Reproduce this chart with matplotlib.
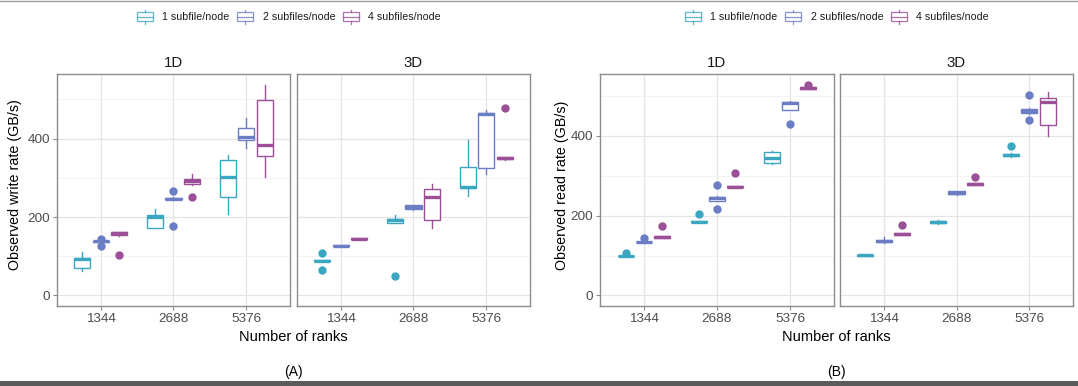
import matplotlib
matplotlib.use("Agg")
import matplotlib.pyplot as plt
from matplotlib.patches import Rectangle
from matplotlib.lines import Line2D
from matplotlib.ticker import MultipleLocator

# ---------------- data ----------------
ranks = ["1344", "2688", "5376"]
groups = ["1 subfile/node", "2 subfiles/node", "4 subfiles/node"]
facets = ["1D", "3D"]
colors = ["#3BA6C0", "#6A7DC5", "#9A4F97"]

# per group, per rank: [whisker_low, q1, median, q3, whisker_high]
write_1d_stats = [
    [[63, 71, 92, 96, 111], [173, 173, 200, 205, 221], [207, 251, 303, 345, 359]],
    [[136, 137, 139, 140, 141], [244, 245, 247, 249, 250], [377, 396, 404, 426, 452]],
    [[152, 153, 160, 162, 163], [283, 284, 291, 297, 311], [302, 355, 383, 498, 538]],
]
write_1d_out = [
    [[], [], []],
    [[126, 143], [177, 266], []],
    [[104], [251], []],
]
write_3d_stats = [
    [[86, 87, 88, 90, 91], [185, 186, 193, 195, 206], [254, 274, 276, 328, 397]],
    [[124, 125, 126, 128, 129], [219, 220, 225, 230, 231], [311, 324, 464, 466, 472]],
    [[143, 143.5, 144, 146, 146.5], [171, 192, 250, 272, 285], [346, 347, 350, 352, 353]],
]
write_3d_out = [
    [[64, 108], [50], []],
    [[], [], []],
    [[], [], [479]],
]
read_1d_stats = [
    [[97, 98, 99, 100, 101], [182, 183, 185, 186, 187], [330, 331, 345, 361, 362]],
    [[132, 133, 134, 135, 136], [236, 237, 245, 248, 249], [465, 466, 483, 486, 487]],
    [[144, 145, 147, 149, 150], [270, 271, 273, 274, 275], [518, 519, 521, 522, 523]],
]
read_1d_out = [
    [[107], [204], []],
    [[143], [217, 278], [430]],
    [[174], [307], [529]],
]
read_3d_stats = [
    [[99, 100, 101, 102, 103], [179, 182, 185, 187, 190], [348, 349, 352, 356, 357]],
    [[132, 134, 136, 139, 147], [251, 254, 258, 261, 263], [455, 458, 463, 467, 470]],
    [[151, 152, 154, 156, 157], [277, 278, 280, 282, 283], [401, 428, 485, 496, 511]],
]
read_3d_out = [
    [[], [], [374]],
    [[], [], [440, 502]],
    [[176], [298], []],
]

# ---------------- layout ----------------
W, H = 1078, 386
plt.rcParams['font.family'] = ['Liberation Sans', 'DejaVu Sans']
fig = plt.figure(figsize=(W / 100, H / 100), dpi=100)
fig.patch.set_facecolor("white")


def px_axes(l, r, t, b):
    return fig.add_axes([l / W, 1 - b / H, (r - l) / W, (b - t) / H])


panels = [
    dict(stats=[write_1d_stats, write_3d_stats], outl=[write_1d_out, write_3d_out],
         ylabel="Observed write rate (GB/s)", xs=[(57, 290), (297, 530)],
         ylabx=15, cap="(A)", legx=137),
    dict(stats=[read_1d_stats, read_3d_stats], outl=[read_1d_out, read_3d_out],
         ylabel="Observed read rate (GB/s)", xs=[(600, 834), (840, 1073)],
         ylabx=562, cap="(B)", legx=685),
]
TOP, BOT = 74, 306
offsets = [-0.25, 0.0, 0.25]
border = "#8c8c8c"

for p in panels:
    allv = [v for st in p["stats"] for g in st for r in g for v in r]
    allv += [v for ol in p["outl"] for g in ol for r in g for v in r]
    hi = max(allv)
    lo = 0
    pad = (hi - lo) * 0.05
    for fi, (st, ol) in enumerate(zip(p["stats"], p["outl"])):
        l, r = p["xs"][fi]
        ax = px_axes(l, r, TOP, BOT)
        ax.set_xlim(-0.6, 2.6)
        ax.set_ylim(lo - pad, hi + pad)
        ax.set_axisbelow(True)
        ax.yaxis.set_major_locator(MultipleLocator(200))
        ax.yaxis.set_minor_locator(MultipleLocator(100))
        ax.grid(which="major", color="#e4e4e4", lw=0.9)
        ax.grid(which="minor", axis="y", color="#f1f1f1", lw=0.6)
        for gi in range(3):
            c = colors[gi]
            bstats = []
            for ri, s in enumerate(st[gi]):
                bstats.append(dict(whislo=s[0], q1=s[1], med=s[2], q3=s[3],
                                   whishi=s[4], fliers=ol[gi][ri]))
            ax.bxp(bstats, positions=[ri + offsets[gi] for ri in range(3)],
                   widths=0.22, patch_artist=True, showcaps=False,
                   manage_ticks=False,
                   boxprops=dict(facecolor="white", edgecolor=c, lw=1.0),
                   medianprops=dict(color=c, lw=2.4, solid_capstyle="butt"),
                   whiskerprops=dict(color=c, lw=1.0),
                   flierprops=dict(marker="o", markerfacecolor=c,
                                   markeredgecolor=c, markersize=5,
                                   linestyle="none"))
        ax.set_xticks(range(3))
        ax.set_xticklabels(ranks)
        for sp in ax.spines.values():
            sp.set_color(border)
            sp.set_linewidth(1.0)
        ax.tick_params(which="major", length=3, color=border,
                       labelcolor="#4d4d4d", labelsize=9.7, pad=2)
        ax.tick_params(which="minor", length=0)
        if fi == 1:
            ax.tick_params(axis="y", left=False, labelleft=False)
        ax.set_title(facets[fi], fontsize=10.8, pad=5, color="#1a1a1a")

# overlay in pixel coordinates for shared texts / legends
ov = fig.add_axes([0, 0, 1, 1])
ov.set_xlim(0, W)
ov.set_ylim(H, 0)
ov.axis("off")
ov.patch.set_alpha(0)

legend_text_dx = [25, 126, 231]
legend_key_dx = [0, 100, 206]
for p in panels:
    l0 = p["xs"][0][0]
    r1 = p["xs"][1][1]
    cx = (l0 + r1) / 2
    ov.text(cx, 337, "Number of ranks", ha="center", va="center", fontsize=10.5)
    ov.text(p["ylabx"], (TOP + BOT) / 2 - 5, p["ylabel"], rotation=90,
            ha="center", va="center", fontsize=10.3)
    ov.text(cx, 372, p["cap"], ha="center", va="center", fontsize=10)
    for gi, g in enumerate(groups):
        c = colors[gi]
        kx = p["legx"] + legend_key_dx[gi]
        ov.add_patch(Rectangle((kx, 12.3), 16, 9, facecolor="white",
                               edgecolor=c, lw=0.9, alpha=0.8))
        ov.add_line(Line2D([kx + 8, kx + 8], [9.5, 12.3], color=c, lw=0.9, alpha=0.8))
        ov.add_line(Line2D([kx + 8, kx + 8], [21.3, 24], color=c, lw=0.9, alpha=0.8))
        ov.add_line(Line2D([kx, kx + 16], [16.7, 16.7], color=c, lw=0.9, alpha=0.8))
        ov.text(p["legx"] + legend_text_dx[gi], 16.7, g, ha="left", va="center",
                fontsize=7.7, color="#1a1a1a")

# page artefacts: thin line at top, dark band at bottom
ov.add_line(Line2D([0, W], [0.5, 0.5], color="#9a9a9a", lw=1))
ov.add_patch(Rectangle((0, 381), W, 6, facecolor="#5b5b5b", edgecolor="none"))

fig.savefig("out.png", dpi=100)
